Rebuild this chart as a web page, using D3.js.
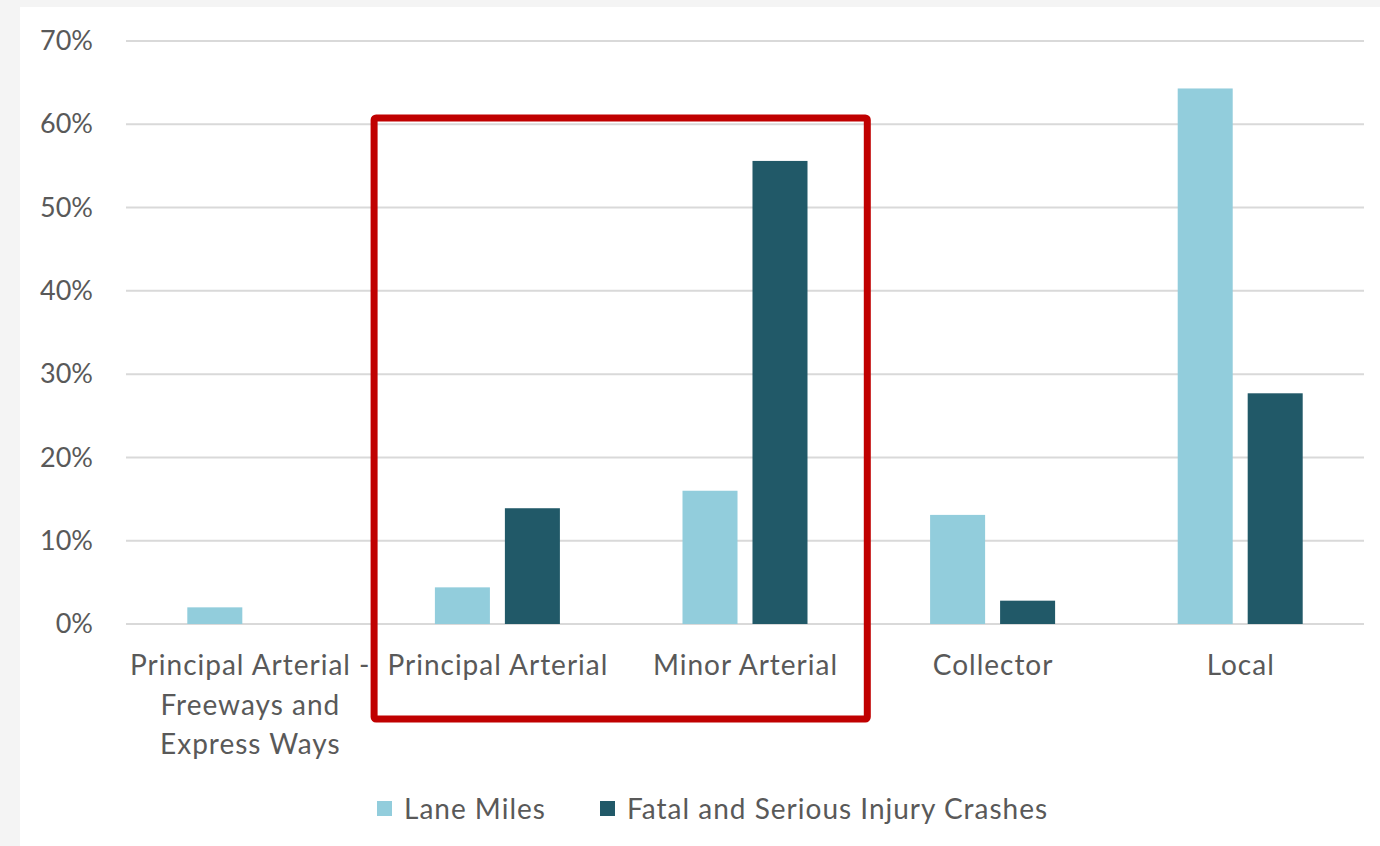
<!DOCTYPE html>
<html>
<head>
<meta charset="utf-8">
<script src="https://cdn.jsdelivr.net/npm/d3@7"></script>
<style>
  html, body { margin: 0; padding: 0; background: #f4f4f4; }
  svg { display: block; }
  text { font-family: Lato, "Open Sans", sans-serif; fill: #595959; }
</style>
</head>
<body>
<svg id="chart" width="1380" height="846"></svg>
<script>
const categories = ["Principal Arterial - Freeways and Express Ways", "Principal Arterial", "Minor Arterial", "Collector", "Local"];
const categoryLines = [["Principal Arterial -", "Freeways and", "Express Ways"], ["Principal Arterial"], ["Minor Arterial"], ["Collector"], ["Local"]];
const seriesNames = ["Lane Miles", "Fatal and Serious Injury Crashes"];
const laneMiles = [2.0, 4.4, 16.0, 13.1, 64.3];
const fatalCrashes = [0, 13.9, 55.6, 2.8, 27.7];
const yTicks = [0, 10, 20, 30, 40, 50, 60, 70];
const highlighted = ["Principal Arterial", "Minor Arterial"];
const colors = ["#92CDDC", "#215968"];

(function () {
const svg = d3.select("#chart");
svg.append("rect").attr("x", 20).attr("y", 7).attr("width", 1360).attr("height", 839).attr("fill", "#ffffff");

const pLeft = 126, pRight = 1364, pTop = 41, pBottom = 624;
const x = d3.scaleBand().domain(categories).range([pLeft, pRight]).paddingInner(0).paddingOuter(0);
const y = d3.scaleLinear().domain([0, 70]).range([pBottom, pTop]);
const x1 = d3.scaleBand().domain(seriesNames).range([0, 125]).paddingInner(0.214);

// gridlines
svg.append("g").selectAll("line").data(yTicks).join("line")
  .attr("x1", pLeft).attr("x2", pRight)
  .attr("y1", d => y(d)).attr("y2", d => y(d))
  .attr("stroke", "#d9d9d9").attr("stroke-width", 2);

// y axis labels
const yAxis = d3.axisLeft(y).tickValues(yTicks).tickFormat(d => d + "%").tickSize(0).tickPadding(33);
const yg = svg.append("g").attr("transform", `translate(${pLeft},0)`).call(yAxis);
yg.select(".domain").remove();
yg.selectAll("text").attr("font-size", 27).attr("fill", "#595959").style("font-family", "Lato, sans-serif");

// bars
const rows = categories.map((c, i) => ({ cat: c, vals: [laneMiles[i], fatalCrashes[i]] }));
const groups = svg.append("g").selectAll("g").data(rows).join("g")
  .attr("transform", d => `translate(${x(d.cat) + x.bandwidth() / 2 - 62.5},0)`);
groups.selectAll("rect").data(d => d.vals.map((v, j) => ({ s: seriesNames[j], v, j })).filter(e => e.v > 0))
  .join("rect")
  .attr("x", e => x1(e.s)).attr("width", x1.bandwidth())
  .attr("y", e => y(e.v)).attr("height", e => y(0) - y(e.v))
  .attr("fill", e => colors[e.j]);

// x labels
const xl = svg.append("g").selectAll("text").data(categories).join("text")
  .attr("x", d => x(d) + x.bandwidth() / 2)
  .attr("y", 675)
  .attr("text-anchor", "middle")
  .attr("font-size", 28)
  .attr("letter-spacing", 1);
xl.each(function(d, i) {
  d3.select(this).selectAll("tspan").data(categoryLines[i]).join("tspan")
    .attr("x", x(d) + x.bandwidth() / 2 + 0.5)
    .attr("dy", (t, k) => k === 0 ? 0 : 39.5)
    .text(t => t);
});

// highlight box
const hx0 = x(highlighted[0]) + 0.5, hx1 = x(highlighted[1]) + x.bandwidth() - 1.5;
svg.append("rect")
  .attr("x", hx0).attr("y", y(61) + 2)
  .attr("width", hx1 - hx0).attr("height", 719 - (y(61) + 2))
  .attr("rx", 2).attr("fill", "none")
  .attr("stroke", "#C00000").attr("stroke-width", 7);

// legend
const legendItems = [{ name: seriesNames[0], x: 377 }, { name: seriesNames[1], x: 600 }];
const lg = svg.append("g").selectAll("g").data(legendItems).join("g")
  .attr("transform", d => `translate(${d.x},801)`);
lg.append("rect").attr("width", 15).attr("height", 15).attr("fill", (d, i) => colors[i]);
lg.append("text").attr("x", 27).attr("y", 18).attr("font-size", 28).attr("letter-spacing", 1).text(d => d.name);
})();
</script>
</body>
</html>
